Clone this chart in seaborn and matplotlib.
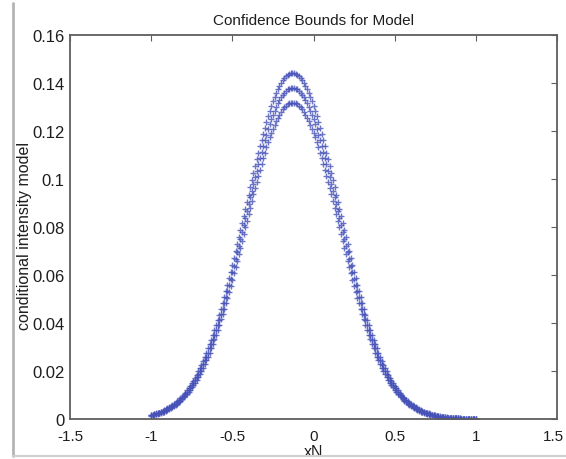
import numpy as np
import pandas as pd
import matplotlib
matplotlib.use("Agg")
import matplotlib.pyplot as plt
from matplotlib.lines import Line2D
from matplotlib.transforms import ScaledTranslation
import seaborn as sns

# Evaluation grid of the covariate
xN = np.linspace(-1.0, 1.0, 201)

# Fitted conditional intensity
lam_mean = [
    0.0015, 0.0017, 0.0019, 0.0021, 0.0023, 0.0025, 0.0028, 0.0031, 0.0034, 0.0037,
    0.0041, 0.0045, 0.0049, 0.0053, 0.0058, 0.0063, 0.0069, 0.0075, 0.0081, 0.0088,
    0.0096, 0.0104, 0.0112, 0.0121, 0.0130, 0.0140, 0.0151, 0.0162, 0.0174, 0.0187,
    0.0200, 0.0214, 0.0228, 0.0244, 0.0260, 0.0277, 0.0294, 0.0312, 0.0331, 0.0351,
    0.0371, 0.0392, 0.0414, 0.0437, 0.0460, 0.0484, 0.0508, 0.0533, 0.0559, 0.0585,
    0.0612, 0.0639, 0.0666, 0.0694, 0.0722, 0.0751, 0.0779, 0.0808, 0.0837, 0.0866,
    0.0895, 0.0923, 0.0952, 0.0980, 0.1008, 0.1035, 0.1062, 0.1088, 0.1113, 0.1138,
    0.1162, 0.1185, 0.1207, 0.1228, 0.1248, 0.1267, 0.1284, 0.1300, 0.1315, 0.1328,
    0.1340, 0.1351, 0.1360, 0.1367, 0.1373, 0.1377, 0.1379,
    0.1380,
    0.1379, 0.1377, 0.1373, 0.1367, 0.1360, 0.1351, 0.1340, 0.1328, 0.1315, 0.1300,
    0.1284, 0.1267, 0.1248, 0.1228, 0.1207, 0.1185, 0.1162, 0.1138, 0.1113, 0.1088,
    0.1062, 0.1035, 0.1008, 0.0980, 0.0952, 0.0923, 0.0895, 0.0866, 0.0837, 0.0808,
    0.0779, 0.0751, 0.0722, 0.0694, 0.0666, 0.0639, 0.0612, 0.0585, 0.0559, 0.0533,
    0.0508, 0.0484, 0.0460, 0.0437, 0.0414, 0.0392, 0.0371, 0.0351, 0.0331, 0.0312,
    0.0294, 0.0277, 0.0260, 0.0244, 0.0228, 0.0214, 0.0200, 0.0187, 0.0174, 0.0162,
    0.0151, 0.0140, 0.0130, 0.0121, 0.0112, 0.0104, 0.0096, 0.0088, 0.0081, 0.0075,
    0.0069, 0.0063, 0.0058, 0.0053, 0.0049, 0.0045, 0.0041, 0.0037, 0.0034, 0.0031,
    0.0028, 0.0025, 0.0023, 0.0021, 0.0019, 0.0017, 0.0015, 0.0014, 0.0012, 0.0011,
    0.0010, 0.0009, 0.0008, 0.0007, 0.0006, 0.0006, 0.0005, 0.0005, 0.0004, 0.0004,
    0.0003, 0.0003, 0.0003, 0.0002, 0.0002, 0.0002, 0.0002, 0.0001, 0.0001, 0.0001,
    0.0001, 0.0001, 0.0001,
]

# Upper confidence bound
lam_upper = [
    0.0016, 0.0018, 0.0021, 0.0023, 0.0025, 0.0027, 0.0030, 0.0033, 0.0037, 0.0040,
    0.0044, 0.0049, 0.0053, 0.0057, 0.0063, 0.0068, 0.0075, 0.0080, 0.0086, 0.0093,
    0.0102, 0.0110, 0.0119, 0.0128, 0.0138, 0.0148, 0.0160, 0.0172, 0.0184, 0.0198,
    0.0212, 0.0227, 0.0242, 0.0259, 0.0276, 0.0294, 0.0312, 0.0328, 0.0348, 0.0369,
    0.0390, 0.0412, 0.0435, 0.0459, 0.0483, 0.0508, 0.0533, 0.0560, 0.0587, 0.0614,
    0.0643, 0.0671, 0.0699, 0.0729, 0.0758, 0.0789, 0.0818, 0.0844, 0.0875, 0.0905,
    0.0935, 0.0965, 0.0995, 0.1024, 0.1053, 0.1082, 0.1110, 0.1137, 0.1163, 0.1189,
    0.1214, 0.1238, 0.1261, 0.1283, 0.1304, 0.1324, 0.1342, 0.1359, 0.1374, 0.1388,
    0.1400, 0.1412, 0.1421, 0.1429, 0.1435, 0.1439, 0.1441,
    0.1442,
    0.1441, 0.1439, 0.1435, 0.1429, 0.1421, 0.1412, 0.1400, 0.1388, 0.1374, 0.1359,
    0.1342, 0.1324, 0.1304, 0.1283, 0.1261, 0.1238, 0.1214, 0.1189, 0.1163, 0.1137,
    0.1110, 0.1082, 0.1053, 0.1024, 0.0995, 0.0965, 0.0935, 0.0905, 0.0875, 0.0844,
    0.0818, 0.0789, 0.0758, 0.0729, 0.0699, 0.0671, 0.0643, 0.0614, 0.0587, 0.0560,
    0.0533, 0.0508, 0.0483, 0.0459, 0.0435, 0.0412, 0.0390, 0.0369, 0.0348, 0.0328,
    0.0312, 0.0294, 0.0276, 0.0259, 0.0242, 0.0227, 0.0212, 0.0198, 0.0184, 0.0172,
    0.0160, 0.0148, 0.0138, 0.0128, 0.0119, 0.0110, 0.0102, 0.0093, 0.0086, 0.0080,
    0.0075, 0.0068, 0.0063, 0.0057, 0.0053, 0.0049, 0.0044, 0.0040, 0.0037, 0.0033,
    0.0030, 0.0027, 0.0025, 0.0023, 0.0021, 0.0018, 0.0016, 0.0015, 0.0013, 0.0012,
    0.0011, 0.0010, 0.0009, 0.0008, 0.0007, 0.0006, 0.0006, 0.0005, 0.0005, 0.0004,
    0.0004, 0.0003, 0.0003, 0.0002, 0.0002, 0.0002, 0.0002, 0.0001, 0.0001, 0.0001,
    0.0001, 0.0001, 0.0001,
]

# Lower confidence bound
lam_lower = [
    0.0014, 0.0016, 0.0017, 0.0019, 0.0021, 0.0023, 0.0026, 0.0029, 0.0031, 0.0034,
    0.0038, 0.0041, 0.0045, 0.0049, 0.0053, 0.0058, 0.0063, 0.0070, 0.0076, 0.0083,
    0.0090, 0.0098, 0.0105, 0.0114, 0.0122, 0.0132, 0.0142, 0.0152, 0.0164, 0.0176,
    0.0188, 0.0201, 0.0214, 0.0229, 0.0244, 0.0260, 0.0276, 0.0296, 0.0314, 0.0333,
    0.0352, 0.0372, 0.0393, 0.0415, 0.0437, 0.0460, 0.0483, 0.0506, 0.0531, 0.0556,
    0.0581, 0.0607, 0.0633, 0.0659, 0.0686, 0.0713, 0.0740, 0.0772, 0.0799, 0.0827,
    0.0855, 0.0881, 0.0909, 0.0936, 0.0963, 0.0988, 0.1014, 0.1039, 0.1063, 0.1087,
    0.1110, 0.1132, 0.1153, 0.1173, 0.1192, 0.1210, 0.1226, 0.1242, 0.1256, 0.1268,
    0.1280, 0.1290, 0.1299, 0.1305, 0.1311, 0.1315, 0.1317,
    0.1318,
    0.1317, 0.1315, 0.1311, 0.1305, 0.1299, 0.1290, 0.1280, 0.1268, 0.1256, 0.1242,
    0.1226, 0.1210, 0.1192, 0.1173, 0.1153, 0.1132, 0.1110, 0.1087, 0.1063, 0.1039,
    0.1014, 0.0988, 0.0963, 0.0936, 0.0909, 0.0881, 0.0855, 0.0827, 0.0799, 0.0772,
    0.0740, 0.0713, 0.0686, 0.0659, 0.0633, 0.0607, 0.0581, 0.0556, 0.0531, 0.0506,
    0.0483, 0.0460, 0.0437, 0.0415, 0.0393, 0.0372, 0.0352, 0.0333, 0.0314, 0.0296,
    0.0276, 0.0260, 0.0244, 0.0229, 0.0214, 0.0201, 0.0188, 0.0176, 0.0164, 0.0152,
    0.0142, 0.0132, 0.0122, 0.0114, 0.0105, 0.0098, 0.0090, 0.0083, 0.0076, 0.0070,
    0.0063, 0.0058, 0.0053, 0.0049, 0.0045, 0.0041, 0.0038, 0.0034, 0.0031, 0.0029,
    0.0026, 0.0023, 0.0021, 0.0019, 0.0017, 0.0016, 0.0014, 0.0013, 0.0011, 0.0010,
    0.0009, 0.0008, 0.0007, 0.0006, 0.0006, 0.0005, 0.0005, 0.0004, 0.0004, 0.0003,
    0.0003, 0.0003, 0.0002, 0.0002, 0.0002, 0.0002, 0.0002, 0.0001, 0.0001, 0.0001,
    0.0001, 0.0001, 0.0001,
]

x_ticks = [-1.5, -1, -0.5, 0, 0.5, 1, 1.5]
x_tick_labels = ["-1.5", "-1", "-0.5", "0", "0.5", "1", "1.5"]
y_ticks = [0, 0.02, 0.04, 0.06, 0.08, 0.1, 0.12, 0.14, 0.16]
y_tick_labels = ["0", "0.02", "0.04", "0.06", "0.08", "0.1", "0.12", "0.14", "0.16"]

sns.set_style("white")
plt.rcParams["font.family"] = ["Liberation Sans", "DejaVu Sans"]

axis_grey = "#5e5e5e"
text_dark = "#1e1e1e"
marker_blue = "#4652b8"

fig = plt.figure(figsize=(5.66, 4.60), dpi=100)
ax = fig.add_axes([70 / 566, 1 - 420 / 460, (557 - 70) / 566, (420 - 36) / 460])

df = pd.DataFrame({"xN": xN, "mean": lam_mean, "upper": lam_upper, "lower": lam_lower})
for col in ["upper", "mean", "lower"]:
    sns.scatterplot(data=df, x="xN", y=col, ax=ax, marker="+", s=22,
                    linewidth=1.0, color=marker_blue, alpha=0.8, legend=False)

ax.set_xlim(-1.5, 1.5)
ax.set_ylim(0, 0.16)
ax.set_xticks(x_ticks)
ax.set_xticklabels(x_tick_labels)
ax.set_yticks(y_ticks)
ax.set_yticklabels(y_tick_labels)
ax.tick_params(direction="in", length=4, width=0.8, colors=axis_grey,
               labelcolor=text_dark, top=True, right=True)
ax.tick_params(axis="x", pad=7, labelsize=11)
ax.tick_params(axis="y", pad=4, labelsize=12)
for side in ax.spines.values():
    side.set_visible(True)
    side.set_color(axis_grey)
    side.set_linewidth(1.3)

# keep the rightmost x tick label inside the canvas
last = ax.get_xticklabels()[-1]
last.set_transform(last.get_transform() + ScaledTranslation(-4 / 100, 0, fig.dpi_scale_trans))

ax.set_title("Confidence Bounds for Model", fontsize=11, color=text_dark, pad=8)
ax.set_xlabel("xN", fontsize=11.5, color=text_dark)
ax.xaxis.set_label_coords(0.5, -0.064)
ax.set_ylabel("conditional intensity model", fontsize=11.5, color=text_dark)
ax.yaxis.set_label_coords(-0.079, 0.48)

# Light frame around the figure edge
fig.add_artist(Line2D([13 / 566, 13 / 566], [1 - 4 / 460, 1 - 457 / 460],
                      transform=fig.transFigure, color="#b4b4b4", linewidth=2))
fig.add_artist(Line2D([13 / 566, 1.0], [1 - 457 / 460, 1 - 457 / 460],
                      transform=fig.transFigure, color="#d0d0d0", linewidth=1.5))

fig.savefig("out.png", dpi=100, facecolor="white")
